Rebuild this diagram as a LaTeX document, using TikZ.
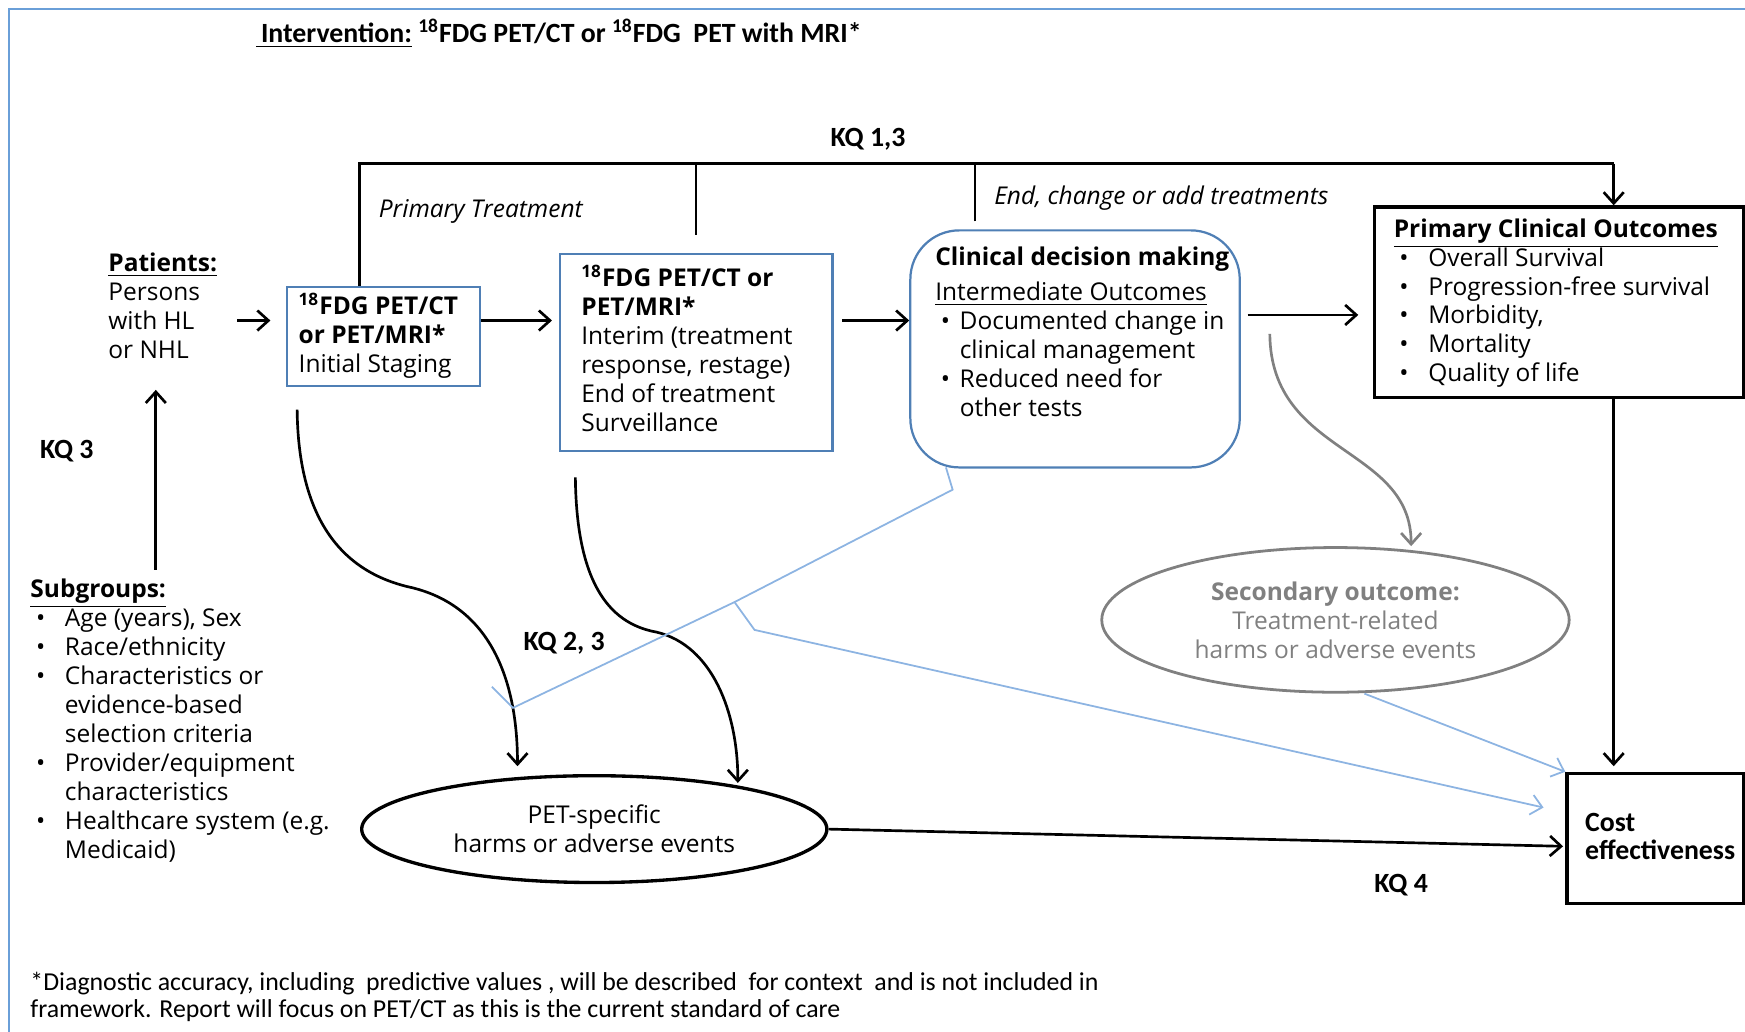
\documentclass[tikz,border=0pt]{standalone}
\usepackage{fontspec}
\setmainfont{Open Sans}
\newfontfamily\calfont{Carlito}
\usetikzlibrary{arrows.meta,shapes.geometric}
\definecolor{frameblue}{HTML}{6A9FD8}
\definecolor{boxblue}{HTML}{4F7FB5}
\definecolor{lineblue}{HTML}{8DB4E2}
\definecolor{midgray}{HTML}{808080}
\newcommand\bodyfnt{\fontsize{11}{13}\selectfont}
\newcommand\kqfnt{\calfont\bfseries\fontsize{12.5}{15}\selectfont}
\newcommand\notefnt{\calfont\fontsize{11.6}{12}\selectfont}
\newcommand\costfnt{\calfont\bfseries\fontsize{12.5}{12.5}\selectfont}
\newcommand\bul[1]{\makebox[#1][l]{\hspace{2.5pt}\textbullet}}
\newcommand\ind[1]{\hspace*{#1}}
\begin{document}
\begin{tikzpicture}[x=0.5pt,y=-0.5pt,
  conn/.style={line width=1.2pt},
  arr/.style={conn,-{Straight Barb[length=5pt,width=9pt]}},
  bluearr/.style={draw=lineblue,line width=0.8pt,-{Straight Barb[length=5pt,width=9pt]}},
  blueline/.style={draw=lineblue,line width=0.8pt},
  txt/.style={font=\bodyfnt,inner sep=0pt,align=left,execute at begin node={\strut}},
  kq/.style={font=\kqfnt,inner sep=0pt},
  bluebox/.style={draw=boxblue,line width=1pt,inner sep=0pt},
  blackbox/.style={draw=black,line width=1.5pt,inner sep=0pt},
  ital/.style={font=\bodyfnt\itshape,inner sep=0pt,anchor=west}]
\useasboundingbox (0,0) rectangle (1568,927);
\draw[frameblue,line width=1pt] (8,940) -- (8,8) -- (1580,8);

% title
\node[anchor=west,inner sep=0pt,font=\kqfnt] (title) at (230,30)
  {\underline{\,Intervention:}\ \textsuperscript{18}FDG PET/CT or \textsuperscript{18}FDG\ \ PET with MRI*};

% boxes
\node[bluebox,minimum width=86.5pt,minimum height=44.5pt] (box1) at (344.5,302.5) {};
\node[bluebox,minimum width=122.5pt,minimum height=88.5pt] (box2) at (625.5,316.5) {};
\node[bluebox,rounded corners=22pt,minimum width=148pt,minimum height=106.5pt] (clin) at (966,313.5) {};
\node[blackbox,minimum width=166pt,minimum height=85.5pt] (primary) at (1401,271.5) {};
\node[blackbox,minimum width=79.5pt,minimum height=58.5pt] (cost) at (1487.5,753.5) {};
\node[draw=black,line width=1.5pt,ellipse,inner sep=0pt,minimum width=209pt,minimum height=48pt,
  font=\bodyfnt,align=center] (pet) at (534,745) {PET-specific\\harms or adverse events};
\node[draw=midgray,line width=1.25pt,ellipse,inner sep=0pt,minimum width=210pt,minimum height=65pt,
  font=\bodyfnt,align=center,text=midgray] (secondary) at (1200,557)
  {\textbf{Secondary outcome:}\\Treatment-related\\harms or adverse events};

% texts
\node[txt,anchor=north west] (patients) at (97,227)
  {\textbf{\underline{Patients:}}\\Persons\\with HL\\or NHL};
\node[txt,anchor=north west] (box1text) at (268,263)
  {\textbf{\textsuperscript{18}FDG PET/CT}\\\textbf{or PET/MRI*}\\Initial Staging};
\node[txt,anchor=north west] (box2text) at (522,238)
  {\textbf{\textsuperscript{18}FDG PET/CT or}\\\textbf{PET/MRI*}\\Interim (treatment\\response, restage)\\End of treatment\\Surveillance};
\node[txt,anchor=north west] (clintext) at (840,221)
  {\textbf{Clinical decision making}\\[3pt]\underline{Intermediate Outcomes}\\
   \bul{11pt}Documented change in\\\ind{11pt}clinical management\\
   \bul{11pt}Reduced need for\\\ind{11pt}other tests};
\node[txt,anchor=north west] (primtext) at (1252,196)
  {\textbf{\underline{Primary Clinical Outcomes}}\\
   \bul{15.5pt}Overall Survival\\\bul{15.5pt}Progression-free survival\\
   \bul{15.5pt}Morbidity,\\\bul{15.5pt}Mortality\\\bul{15.5pt}Quality of life};
\node[inner sep=0pt,anchor=north west,font=\costfnt,align=left,execute at begin node={\strut}] (costtext) at (1424,730.5)
  {Cost\\effectiveness};
\node[txt,anchor=north west] (subgroups) at (27,520)
  {\textbf{\underline{Subgroups:}}\\
   \bul{15.5pt}Age (years), Sex\\\bul{15.5pt}Race/ethnicity\\\bul{15.5pt}Characteristics or\\
   \ind{15.5pt}evidence-based\\\ind{15.5pt}selection criteria\\\bul{15.5pt}Provider/equipment\\
   \ind{15.5pt}characteristics\\\bul{15.5pt}Healthcare system (e.g.\\\ind{15.5pt}Medicaid)};
\node[inner sep=0pt,anchor=north west,font=\notefnt,align=left,execute at begin node={\strut}] (note) at (27,873)
  {*Diagnostic accuracy, including\ \ predictive values , will be described\ \ for context\ \ and is not included in\\
   framework. Report will focus on PET/CT as this is the current standard of care};
\node[ital] (primtreat) at (340,190) {Primary Treatment};
\node[ital] (endchange) at (893,178) {End, change or add treatments};
\node[kq] (kq13) at (780,125) {KQ 1,3};
\node[kq] (kq3) at (60,405) {KQ 3};
\node[kq] (kq23) at (507,578) {KQ 2, 3};
\node[kq] (kq4) at (1259,795) {KQ 4};

% coordinates
\coordinate (row) at (0,288);
\coordinate (row2) at (0,283);
\coordinate (barL) at (323,147);
\coordinate (barR) at (1450,147);
\coordinate (kx) at (140,0);
\coordinate (v3) at ([xshift=29.5pt,yshift=3.5pt]clin.north west);

% main flow
\draw[arr,shorten <=9pt,shorten >=7pt] (patients.east |- row) -- (box1.west |- row);
\draw[arr,shorten >=3pt] (box1.east |- row) -- (box2.west |- row);
\draw[arr,shorten <=4pt] (box2.east |- row) -- (clin.west |- row);
\draw[arr,shorten <=3pt,shorten >=6.5pt] (clin.east |- row2) -- (primary.west |- row2);
\draw[arr,shorten <=4pt,shorten >=10pt] (subgroups.north -| kx) -- (patients.south -| kx);

% top bar
\draw[conn] (box1.north -| barL) -- (barL) -- (barR);
\draw[arr] (barR) -- (barR |- primary.north);
\draw[conn] (barL -| box2.north) -- ([yshift=8pt]box2.north);
\draw[conn] (v3) -- (v3 |- barL);
\draw[arr,shorten >=2.5pt] (barR |- primary.south) -- (barR |- cost.north);

% harms curves
\coordinate (c1s) at ([xshift=5pt,yshift=-10pt]box1.south west);
\coordinate (c1e) at ([xshift=-34.5pt,yshift=3.5pt]pet.north);
\draw[arr] (c1s) .. controls (268,470) and (310,515) .. (370,528)
  .. controls (440,545) and (465,610) .. (c1e);
\coordinate (c2s) at ([xshift=7.5pt,yshift=-11.5pt]box2.south west);
\coordinate (c2e) at ([xshift=64.5pt,yshift=-4pt]pet.north);
\draw[arr] (c2s) .. controls (518,520) and (545,560) .. (590,568)
  .. controls (640,580) and (663,640) .. (c2e);
\draw[arr,shorten >=1pt] (pet.east) -- ([yshift=-3.5pt]cost.west);

% gray curve
\coordinate (gs) at ([xshift=13pt,yshift=6.75pt]clin.east);
\coordinate (ge) at ([xshift=34pt]secondary.north);
\draw[draw=midgray,line width=1.2pt,-{Straight Barb[length=5pt,width=9pt]}]
  (gs) .. controls (1142,410) and (1268,400) .. (ge);

% blue lines
\draw[bluearr] ([xshift=13pt]secondary.south) -- (cost.north west);
\coordinate (bA) at ([xshift=16.5pt,yshift=0.5pt]clin.south west);
\coordinate (bB) at (856,440);
\coordinate (bC) at (660,541);
\coordinate (bD) at (461,636);
\coordinate (bE) at (442,617);
\coordinate (bT) at (678,566);
\coordinate (bEnd) at (0,730);
\draw[blueline] (bA) -- (bB) -- (bC) -- (bD) -- (bE);
\draw[bluearr,shorten >=10pt] (bC) -- (bT) -- (cost.west |- bEnd);
\end{tikzpicture}
\end{document}
